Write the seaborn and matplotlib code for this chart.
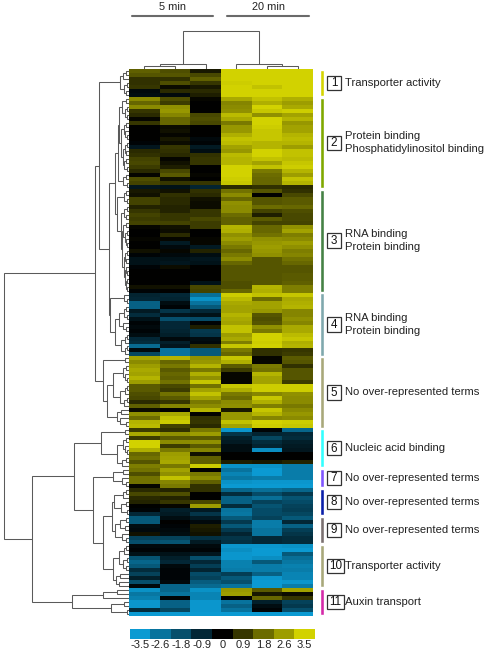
import matplotlib
matplotlib.use("Agg")
import matplotlib.pyplot as plt
from matplotlib.colors import LinearSegmentedColormap
from matplotlib.lines import Line2D
from matplotlib.patches import Rectangle
import seaborn as sns
import numpy as np
import pandas as pd

W, H = 487, 650

# expression per row, one list per sample column
min5_a = [1.6, 1.4, 0.8, 0.8, 0.9, -0.2, -0.3,
          2.3, 1.7, 2.3, 0.9, 0.7, 0.1, 0.9, 0, 0, 0, 0, -0.1, -0.5, 0.7, 0.8, 1.1, 1.2, 1.0, 0.7, 0.1, 1.3, 1.1, -0.5,
          0.4, 0.3, 1.1, 1.1, 0.6, 0.9, 1.1, 1.0, 1.1, 0.1, 0, 0, 0.1, 0, 0, 0.3, -0.1, -0.4, -0.4, -0.1, 0, 0, 0, 0, 0.3, -0.1,
          -0.8, -0.9, -2.2, -2.2, -0.6, -1.0, -0.4, -0.1, -0.2, -0.1, -0.3, -0.9, -1.0, -2.4, -0.2, -1.6,
          2.7, 2.3, 2.6, 2.8, 2.7, 3.0, 2.6, 1.5, 1.5, 1.3, 1.2, 0.7, 1.6, 0.2, 2.4, 1.8, 3.0, 3.1,
          1.0, 2.8, 1.0, 3.5, 3.5, 2.9, 1.7, 1.9, 1.4, 2.1,
          1.9, 1.3, 1.9, 1.9, 0.1,
          0.7, 1.2, 0.7, 0.6, 0, -0.1, -0.9,
          -2.0, -2.0, -0.3, -0.2, 0.3, -1.5, -1.8,
          -0.2, -0.1, -0.4, -1.9, -2.3, -2.0, -1.0, -1.5, -0.7, -1.8, -0.2,
          -3.3, -2.7, -2.9, -3.4, -3.4, -1.0, -3.5]
min5_b = [1.3, 1.4, 0.8, 1.3, 0.2, 0.7, -0.2,
          1.3, 1.0, 2.4, 2.5, 2.2, 1.7, 1.7, 0.2, 0.3, 0.1, 0.4, 0.2, 0.9, 0.8, 0.7, 0.1, 0.3, 0.5, 1.2, 1.5, 0.3, 0.9, -0.4,
          0.3, 0.8, 0.7, 0.7, 0.6, 0.6, 0.9, 0.9, 1.1, 0.3, 0.2, 0.7, 0.1, -0.6, -0.2, 0.1, -0.2, -0.4, -0.5, 0.2, 0, 0, 0, 0, 0.3, 0,
          -0.9, -0.8, -0.3, -0.1, -1.2, -0.5, -1.8, -0.9, -0.9, -0.8, -0.7, -0.2, -0.7, -0.5, -2.6, -2.6,
          3.0, 1.7, 2.0, 1.5, 1.7, 1.6, 1.9, 1.2, 1.0, 1.9, 1.5, 0.9, 2.2, 0, 2.8, 3.2, 3.4, 1.1,
          0.8, 2.4, 1.5, 2.3, 1.0, 2.0, 2.6, 2.7, 2.8, 2.0,
          2.7, 2.4, 3.2, 2.2, 2.0,
          0.6, 1.3, 0.6, 0.9, 0.1, -0.7, -0.6,
          -0.3, 0, -0.1, -0.2, -0.3, -1.5, -1.9,
          -0.2, -0.1, -0.4, -0.7, -0.9, -0.2, -0.1, -0.1, -0.1, -0.2, -2.3,
          -2.3, -2.6, -0.1, -2.2, -2.2, -1.6, -3.5]
min5_c = [0.4, 1.2, 1.6, 0.9, 0.4, 0.7, 0.5,
          0.1, 0, 0, 0, 1.2, 1.3, 1.2, 0, 0, 0, -0.2, -0.1, -0.6, -0.3, 0.8, 0.9, 0.9, 0, 0, 0.1, 0, 0.9, -0.8,
          0.8, 0.7, 0.3, 0.2, 0.2, 0.9, 0.9, 1.2, 1.0, 1.0, 0, 0, 0.1, 0.1, -0.6, 0.6, -0.3, -0.5, -0.4, 0, 0, 0, 0, -0.4, 1.2, 1.1,
          -2.5, -3.3, -2.6, -2.0, -0.9, -0.4, -1.7, -0.1, 0.5, -1.3, -1.2, -0.3, -0.2, 0.8, -2.0, -2.0,
          2.4, 2.5, 3.0, 2.0, 2.9, 2.4, 3.3, 1.9, 2.7, 3.2, 2.7, 2.0, 2.3, 3.0, 0, 0.8, 0.9, 0.7,
          2.0, 2.6, 1.5, 2.4, 1.5, 2.2, 0.3, 1.6, 1.6, 3.4,
          0, 2.0, 2.3, 1.6, 0.8,
          0.8, 0, 0, 1.2, 2.6, -0.6, -1.2,
          -0.6, -0.2, 0.5, 0.4, 0.3, -1.1, -0.6,
          -0.2, -0.1, -0.5, -1.8, -0.9, -1.4, -0.8, -1.7, -1.5, -2.1, -2.4,
          -3.3, -3.0, -3.0, -3.4, -3.4, -3.4, -3.5]
min20_a = [3.5, 3.5, 3.5, 3.4, 3.5, 3.5, 3.5,
           2.8, 2.2, 2.3, 2.4, 3.1, 2.8, 2.0, 2.5, 2.5, 2.9, 3.2, 3.1, 2.7, 2.5, 3.1, 3.0, 3.0, 3.5, 3.5, 3.5, 3.4, 3.3, 0.7,
           1.9, 2.3, 1.7, 2.4, 2.3, 2.3, 1.8, 1.6, 1.6, 3.0, 2.9, 2.4, 2.6, 2.3, 2.0, 1.7, 2.0, 2.3, 1.7, 1.4, 1.4, 1.4, 1.4, 1.3, 1.3, 1.7,
           3.4, 3.1, 2.8, 2.7, 2.7, 3.0, 2.8, 2.7, 3.2, 3.2, 2.6, 2.8, 2.1, 3.3, 2.0, 1.7,
           3.3, 2.9, 1.5, 1.0, 0.1, 0.1, 0.1, 3.3, 2.9, 2.0, 1.8, 2.3, 2.4, 0.4, 2.5, 2.5, 3.2, 2.7,
           -3.4, -1.2, -0.7, -0.6, -0.3, -0.3, 0, 0, 0.5, -3.3,
           -2.6, -3.0, -2.7, -3.3, -3.5,
           -2.3, -1.0, -2.2, -2.2, -1.0, -2.6, -2.7,
           -2.0, -1.3, -2.0, -1.3, -0.8, -1.2, -1.1,
           -3.4, -3.2, -3.4, -3.4, -2.9, -2.9, -2.8, -1.4, -2.0, -1.8, -2.6,
           2.5, 2.6, 0, -2.6, -2.2, -2.6, -3.5]
min20_b = [3.5, 3.5, 3.5, 3.5, 3.2, 3.5, 3.5,
           3.2, 2.9, 3.5, 3.3, 2.4, 3.5, 3.5, 3.4, 3.3, 3.3, 3.3, 3.0, 3.0, 3.5, 3.5, 3.2, 2.7, 3.2, 2.0, 1.8, 1.7, 1.7, 0.8,
           1.4, 0, 1.4, 1.4, 1.8, 1.1, 0.5, 1.5, 1.1, 1.7, 1.7, 1.9, 2.4, 2.5, 2.6, 2.5, 2.4, 1.4, 1.4, 1.4, 1.4, 1.4, 1.4, 1.4, 3.0, 2.9,
           3.2, 1.8, 2.7, 2.7, 2.5, 1.4, 1.3, 1.4, 2.4, 2.0, 3.5, 3.5, 3.4, 3.5, 0.8, 0.8,
           0.1, 0.1, 2.0, 1.9, 3.0, 2.7, 2.7, 3.4, 3.4, 2.2, 3.3, 2.9, 2.1, 3.3, 3.0, 2.2, 3.5, 3.4,
           -0.1, -0.8, -1.6, -1.0, -0.8, -3.2, 0, 0, 0.4, -3.3,
           -3.5, -3.5, -2.8, -3.4, -3.5,
           -2.5, -1.7, -2.5, -1.5, -1.9, -1.7, -1.7,
           -1.5, -2.8, -2.8, -2.6, -2.6, -0.9, -0.9,
           -3.4, -3.5, -3.5, -3.2, -2.0, -2.8, -2.8, -2.2, -3.4, -3.5, -3.5,
           1.5, 0.4, 1.7, -0.7, -0.3, -0.1, -3.5]
min20_c = [3.5, 3.5, 3.5, 3.5, 3.5, 3.5, 3.5,
           2.9, 2.6, 2.8, 3.4, 2.7, 3.0, 2.5, 2.7, 2.7, 3.0, 3.1, 3.0, 2.6, 3.2, 3.2, 3.1, 3.3, 3.4, 3.0, 2.6, 3.2, 3.0, 0.7,
           0.8, 1.2, 1.5, 1.5, 1.7, 1.3, 1.2, 1.2, 1.1, 2.4, 2.7, 2.1, 2.3, 2.6, 2.4, 2.1, 2.2, 1.9, 1.7, 1.4, 1.4, 1.5, 1.5, 1.6, 2.1, 2.1,
           3.3, 2.8, 2.9, 3.0, 2.2, 2.2, 2.4, 2.2, 2.8, 2.8, 3.1, 3.3, 2.9, 3.0, 0.9, 1.0,
           1.5, 1.4, 0.8, 1.4, 1.4, 1.4, 1.0, 3.4, 3.4, 2.4, 2.3, 2.3, 2.0, 2.3, 2.5, 2.3, 3.4, 3.3,
           -2.3, -0.9, -1.0, -0.7, -0.6, -0.5, 0, 0, 0.6, -2.8,
           -2.8, -2.8, -2.8, -3.4, -3.5,
           -2.3, -1.3, -1.9, -1.7, -1.5, -1.4, -1.6,
           -2.0, -0.9, -2.2, -1.4, -1.2, -1.0, -1.0,
           -3.3, -3.5, -2.0, -2.5, -2.7, -2.9, -2.8, -3.0, -3.0, -3.4, -2.8,
           2.7, 0.2, 0.9, -1.5, -1.3, -1.8, -3.5]

cluster_rows = [7, 23, 26, 16, 18, 10, 5, 7, 7, 11, 7]
cluster_colors = ["#d4d400", "#7fa800", "#458245", "#7fa8ad", "#a8a87a", "#33ffff",
                  "#7f55ff", "#0a1fa8", "#7a7070", "#a8a87a", "#d42aa8"]
cluster_terms = ["Transporter activity", "Protein binding\nPhosphatidylinositol binding",
                 "RNA binding\nProtein binding", "RNA binding\nProtein binding",
                 "No over-represented terms", "Nucleic acid binding",
                 "No over-represented terms", "No over-represented terms",
                 "No over-represented terms", "Transporter activity", "Auxin transport"]

scale_values = [-3.5, -2.6, -1.8, -0.9, 0, 0.9, 1.8, 2.6, 3.5]

# dendrograms: (merge height, left, right), an int is a leaf of that many rows
c1 = (9, (6, (3, 1, 1), 1), (5, (2, 1, 1), (3, 1, 1)))
c2 = (11, (10, (7, (3, 1, 1), (4, (2, 1, 1), (2, 1, 1))),
           (8, (5, (3, 1, 1), (4, 1, (2, 1, 1))),
            (6, (4, (2, 1, 1), (3, 1, 1)), (5, (3, 1, 1), (2, 1, 1))))),
      (6, (3, 1, 1), (2, 1, 1)))
c3 = (12, (5, (3, 1, 1), (2, 1, 1)),
      (8, (5, (2, 1, 1), (3, 1, 1)),
       (7, (6, (3, 1, 1), (4, (2, 1, 1), (3, 1, (2, 1, 1)))),
        (5, (4, (2, 1, 1), (3, 1, 1)), (4.5, (3, 1, (2, 1, 1)), (3, (2, 1, 1), (2, 1, 1)))))))
c4 = (19, (5, 1, (2, 1, 1)),
      (14, (10, (5, (3, 1, 1), (2, 1, 1)), (6, 1, (3, 1, 1))),
       (8, (4, (2, 1, 1), 1), (4, (2, 1, 1), 1))))
c5 = (26, (4, 1, 1),
      (22, (16, (6, (3, 1, 1), (4, 1, (2, 1, 1))),
            (9, (4, (2, 1, 1), 1), (5, (2, 1, 1), 1))),
       (12, (8, 1, 1), (9, 1, (3, 1, 1)))))
c6 = (28, (4, 1, 1), (12, (6, (3, 1, 1), (4, 1, (2, 1, 1))), (7, (3, 1, 1), 1)))
c7 = (16, (6, 1, 1), (7, 1, (3, 1, 1)))
c8 = (15, (6, (3, 1, 1), 1), (8, (3, 1, 1), (2, 1, 1)))
c9 = (14, (9, (3, 1, 1), (4, 1, 1)), (7, 1, (3, 1, 1)))
c10 = (16, (10, (5, (3, 1, 1), 1), (6, (2, 1, 1), (3, 1, 1))), (13, (9, 1, 1), (10, 1, 1)))
c11 = (57, (26, (12, 1, 1), 1), (18, (5, 1, 1), (2, 1, 1)))
row_tree = (125, (34, (30.4, c1, (20, (14, c2, c3), c4)), c5),
            (97, (55, c6, (36, c7, (26, (17, c8, c9), c10))), c11))
col_tree = (38, (5, (3, 1, 1), 1), (5, 1, (3, 1, 1)))


def add_ax(x0, y0, x1, y1):
    return fig.add_axes([x0 / W, 1 - y1 / H, (x1 - x0) / W, (y1 - y0) / H])


def draw_tree(ax, node, start, horizontal):
    # returns centre position, merge height and the next free leaf position
    if not isinstance(node, tuple):
        return start + node / 2, 0, start + node
    h, left, right = node
    p0, h0, nxt = draw_tree(ax, left, start, horizontal)
    p1, h1, nxt = draw_tree(ax, right, nxt, horizontal)
    hs, ps = [h0, h, h, h1], [p0, p0, p1, p1]
    if horizontal:
        ax.plot(hs, ps, color="#5a5a5a", lw=0.75, solid_joinstyle="miter")
    else:
        ax.plot(ps, hs, color="#5a5a5a", lw=0.75, solid_joinstyle="miter")
    return (p0 + p1) / 2, h, nxt


sns.set_theme(style="white")
plt.rcParams["font.family"] = ["Liberation Sans", "DejaVu Sans"]

fig = plt.figure(figsize=(W / 100, H / 100), dpi=100, facecolor="white")
cmap = LinearSegmentedColormap.from_list("by", ["#0b9ad2", "#000000", "#d2d200"])

table = pd.DataFrame({"a": min5_a, "b": min5_b, "c": min5_c,
                      "d": min20_a, "e": min20_b, "f": min20_c})
n_rows = len(table)

ax = add_ax(129, 69, 313, 616)
sns.heatmap(table, ax=ax, cmap=cmap, vmin=-3.5, vmax=3.5, cbar=False,
            xticklabels=False, yticklabels=False)

ax_rows = add_ax(3, 69, 129, 616)
draw_tree(ax_rows, row_tree, 0, True)
ax_rows.set_xlim(126, 0)
ax_rows.set_ylim(n_rows, 0)
ax_rows.axis("off")

ax_cols = add_ax(129, 30, 313, 69)
draw_tree(ax_cols, col_tree, 0, False)
ax_cols.set_xlim(0, 6)
ax_cols.set_ylim(0, 39)
ax_cols.axis("off")

# side bars and the labels of the clusters, x axis in pixels
ax_side = add_ax(316, 69, 487, 616)
starts = np.cumsum([0] + cluster_rows[:-1])
ax_side.bar([322.1] * len(cluster_rows), np.array(cluster_rows) - 0.4, width=4.6,
            bottom=starts + 0.2, color=cluster_colors)
for i, term in enumerate(cluster_terms):
    mid = starts[i] + cluster_rows[i] / 2
    box_w = 14 if i < 9 else 16.5
    ax_side.add_patch(Rectangle((327, mid - 1.8), box_w, 3.6, fc="white", ec="#333333", lw=0.9))
    ax_side.text(327 + box_w / 2, mid + 0.05, str(i + 1), ha="center", va="center", fontsize=8.4,
                 color="#111111")
    ax_side.text(344.8, mid, term, ha="left", va="center", fontsize=8.15, color="#222222",
                 linespacing=1.4)
ax_side.set_xlim(316, 487)
ax_side.set_ylim(n_rows, 0)
ax_side.axis("off")

# colour scale
ax_scale = add_ax(129.5, 629, 315, 639)
sns.heatmap(pd.DataFrame([scale_values], columns=scale_values), ax=ax_scale, cmap=cmap,
            vmin=-3.5, vmax=3.5, cbar=False, yticklabels=False, xticklabels=scale_values)
ax_scale.tick_params(axis="x", length=0, pad=0.5, labelsize=8.0, labelcolor="#222222", rotation=0)

for label, x0, x1 in [("5 min", 132, 213), ("20 min", 227, 309)]:
    fig.text((x0 + x1) / 2 / W, 1 - 7 / H, label, ha="center", va="center", fontsize=7.9, color="#222222")
    fig.add_artist(Line2D([x0 / W, x1 / W], [1 - 16 / H, 1 - 16 / H], color="#6a6a6a", lw=1.5))

fig.savefig("out.png", dpi=100)
